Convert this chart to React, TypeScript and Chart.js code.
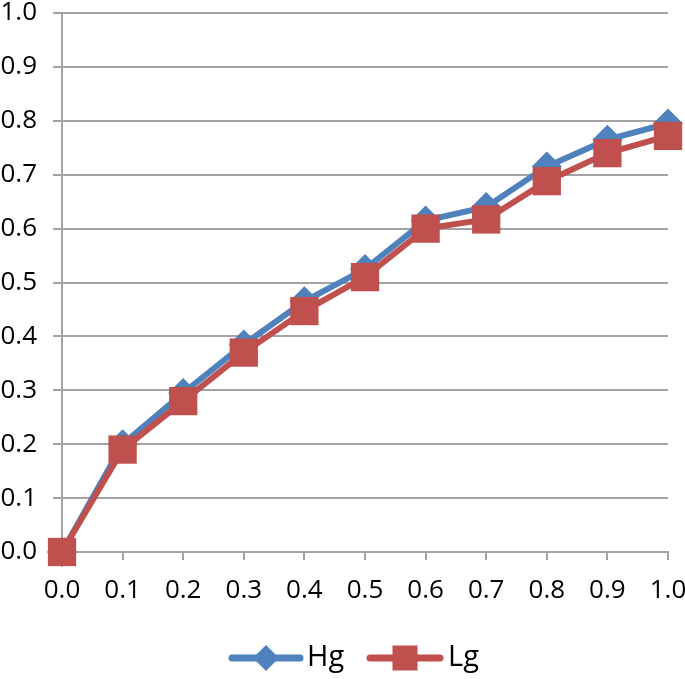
import React, { useEffect, useRef } from "react";
import { Chart, registerables } from "chart.js";

Chart.register(...registerables);

const xValues = [0, 0.1, 0.2, 0.3, 0.4, 0.5, 0.6, 0.7, 0.8, 0.9, 1.0];
const hgValues = [0, 0.2, 0.295, 0.385, 0.465, 0.525, 0.615, 0.64, 0.715, 0.765, 0.795];
const lgValues = [0, 0.19, 0.28, 0.37, 0.447, 0.51, 0.6, 0.617, 0.688, 0.74, 0.772];
const seriesNames = ["Hg", "Lg"];

const BLUE = "#4F81BD";
const RED = "#C0504D";
const GRID = "#A3A3A3";
const FONT = "'Open Sans', 'Liberation Sans', sans-serif";

const legendPlugin = {
  id: "lineMarkerLegend",
  afterDraw(chart: any) {
    const ctx = chart.ctx;
    const y = 658;
    ctx.save();
    ctx.lineCap = "round";
    ctx.lineWidth = 7;
    // Hg
    ctx.strokeStyle = BLUE;
    ctx.beginPath();
    ctx.moveTo(232, y);
    ctx.lineTo(300, y);
    ctx.stroke();
    ctx.fillStyle = BLUE;
    ctx.beginPath();
    const r = 13;
    ctx.moveTo(266, y - r);
    ctx.lineTo(266 + r, y);
    ctx.lineTo(266, y + r);
    ctx.lineTo(266 - r, y);
    ctx.closePath();
    ctx.fill();
    // Lg
    ctx.strokeStyle = RED;
    ctx.beginPath();
    ctx.moveTo(370, y);
    ctx.lineTo(440, y);
    ctx.stroke();
    ctx.fillStyle = RED;
    ctx.fillRect(405 - 12.5, y - 12.5, 25, 25);
    // text
    ctx.fillStyle = "#000";
    ctx.font = `29px ${FONT}`;
    ctx.textBaseline = "middle";
    ctx.textAlign = "left";
    ctx.fillText(seriesNames[0], 307, y);
    ctx.fillText(seriesNames[1], 448, y);
    ctx.restore();
  },
};

export default function App() {
  const ref = useRef<HTMLCanvasElement | null>(null);
  useEffect(() => {
    if (!ref.current) return;
    const chart = new Chart(ref.current, {
      type: "line",
      data: {
        datasets: [
          {
            label: seriesNames[1],
            data: xValues.map((x, i) => ({ x, y: lgValues[i] })),
            borderColor: RED,
            backgroundColor: RED,
            borderWidth: 6,
            pointStyle: "rect",
            pointRadius: 20,
            pointHoverRadius: 20,
            pointBorderWidth: 0,
            pointBackgroundColor: RED,
            tension: 0,
            order: 0,
            clip: false,
          },
          {
            label: seriesNames[0],
            data: xValues.map((x, i) => ({ x, y: hgValues[i] })),
            borderColor: BLUE,
            backgroundColor: BLUE,
            borderWidth: 6,
            pointStyle: "rectRot",
            pointRadius: 15,
            pointHoverRadius: 15,
            pointBorderWidth: 0,
            pointBackgroundColor: BLUE,
            tension: 0,
            order: 1,
            clip: false,
          },
        ],
      },
      options: {
        responsive: false,
        animation: false,
        layout: { autoPadding: false, padding: { top: 0, right: 0, left: 0, bottom: 0 } },
        plugins: { legend: { display: false }, tooltip: { enabled: false } },
        scales: {
          x: {
            type: "linear",
            min: 0,
            max: 1,
            ticks: {
              stepSize: 0.1,
              callback: (v: any) => Number(v).toFixed(1),
              font: { family: FONT, size: 26, lineHeight: 1 },
              color: "#000",
              padding: 18,
              maxRotation: 0,
            },
            grid: {
              drawOnChartArea: false,
              drawTicks: true,
              tickLength: 8,
              color: GRID,
              lineWidth: 2,
            },
            border: { color: GRID, width: 2 },
            afterFit: (scale: any) => {
              scale.height = 679 - 552;
              scale.paddingRight = 17;
              scale.paddingLeft = 0;
            },
          },
          y: {
            min: 0,
            max: 1,
            ticks: {
              stepSize: 0.1,
              callback: (v: any) => Number(v).toFixed(1),
              font: { family: FONT, size: 26, lineHeight: 1 },
              color: "#000",
              padding: 16,
            },
            grid: {
              drawTicks: true,
              tickLength: 9,
              color: GRID,
              lineWidth: 2,
            },
            border: { color: GRID, width: 2 },
            afterFit: (scale: any) => {
              scale.width = 62;
              scale.paddingTop = 13;
              scale.paddingBottom = 0;
            },
          },
        },
      },
      plugins: [legendPlugin],
    });
    return () => chart.destroy();
  }, []);
  return (
    <div style={{ position: "fixed", left: 0, top: 0, width: 685, height: 679, background: "#fff" }}>
      <canvas ref={ref} width={685} height={679} />
    </div>
  );
}
